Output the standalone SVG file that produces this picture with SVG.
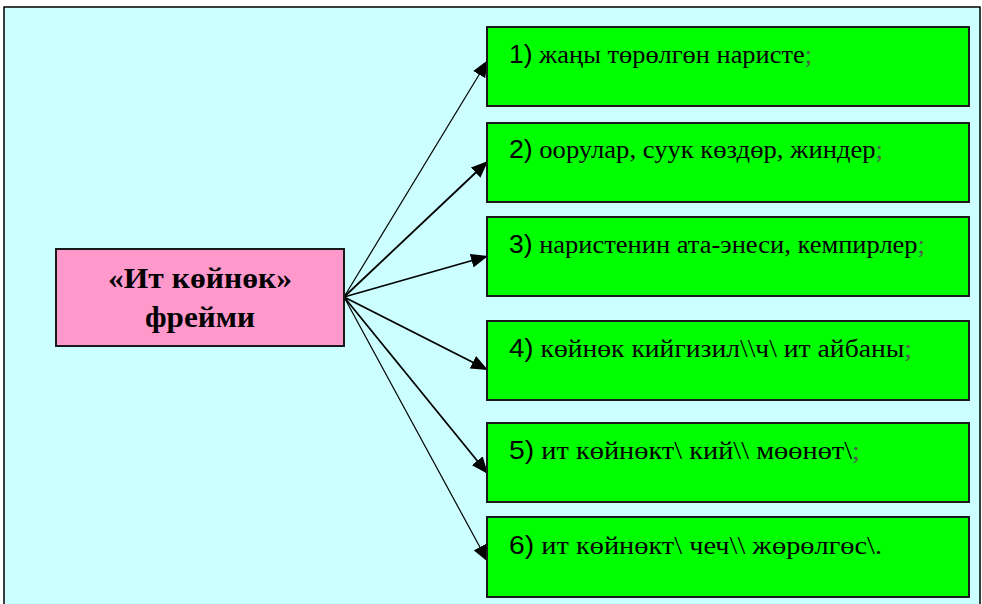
<svg xmlns="http://www.w3.org/2000/svg" width="982" height="604" viewBox="0 0 982 604">
<style>
.item rect{fill:#00ff00;stroke:#1a1a1a;stroke-width:2}
.item text{font-family:"Liberation Serif","Times New Roman",serif;font-size:26px;fill:#000}
.num{font-family:"Liberation Sans",Arial,sans-serif}
.semi{fill:#555}
.con line{stroke:#000}
.title{font-family:"Liberation Serif","Times New Roman",serif;font-weight:bold;font-size:30px;text-anchor:middle;fill:#000}
</style>
<defs>
<marker id="ah" markerUnits="userSpaceOnUse" markerWidth="18" markerHeight="14" refX="17" refY="7" orient="auto">
<path d="M0,0 L17,7 L0,14 Z" fill="#000"/>
</marker>
</defs>
<rect x="0" y="0" width="982" height="604" fill="#fff"/>
<rect id="frame" x="4" y="7" width="976" height="610" fill="#ccffff" stroke="#000" stroke-width="1.5"/>
<g class="con" id="connectors">
<line x1="344" y1="297" x2="488" y2="60" stroke-width="1.2" marker-end="url(#ah)"/>
<line x1="344" y1="297" x2="488" y2="161" stroke-width="1.8" marker-end="url(#ah)"/>
<line x1="344" y1="297" x2="488" y2="256" stroke-width="1.8" marker-end="url(#ah)"/>
<line x1="344" y1="297" x2="488" y2="370" stroke-width="1.8" marker-end="url(#ah)"/>
<line x1="344" y1="297" x2="488" y2="474" stroke-width="1.8" marker-end="url(#ah)"/>
<line x1="344" y1="297" x2="488" y2="562" stroke-width="1.2" marker-end="url(#ah)"/>
</g>
<g id="frame-node">
<rect x="56" y="249" width="288" height="97" fill="#ff99cc" stroke="#1a1a1a" stroke-width="2"/>
<text class="title" x="200" y="288" textLength="184" lengthAdjust="spacingAndGlyphs">«Ит көйнөк»</text>
<text class="title" x="200" y="327" textLength="110" lengthAdjust="spacingAndGlyphs">фрейми</text>
</g>
<g class="item" id="n1"><rect x="487" y="27" width="482" height="79"/><text x="509" y="63" textLength="303" lengthAdjust="spacingAndGlyphs"><tspan class="num">1)</tspan> жаңы төрөлгөн наристе<tspan class="semi">;</tspan></text></g>
<g class="item" id="n2"><rect x="487" y="123" width="482" height="79"/><text x="509" y="158" textLength="374" lengthAdjust="spacingAndGlyphs"><tspan class="num">2)</tspan> оорулар, суук көздөр, жиндер<tspan class="semi">;</tspan></text></g>
<g class="item" id="n3"><rect x="487" y="217" width="482" height="79"/><text x="509" y="253" textLength="416" lengthAdjust="spacingAndGlyphs"><tspan class="num">3)</tspan> наристенин ата-энеси, кемпирлер<tspan class="semi">;</tspan></text></g>
<g class="item" id="n4"><rect x="487" y="321" width="482" height="79"/><text x="509" y="357" textLength="403" lengthAdjust="spacingAndGlyphs"><tspan class="num">4)</tspan> көйнөк кийгизил\\ч\ ит айбаны<tspan class="semi">;</tspan></text></g>
<g class="item" id="n5"><rect x="487" y="423" width="482" height="79"/><text x="509" y="459" textLength="351" lengthAdjust="spacingAndGlyphs"><tspan class="num">5)</tspan> ит көйнөкт\ кий\\ мөөнөт\<tspan class="semi">;</tspan></text></g>
<g class="item" id="n6"><rect x="487" y="517" width="482" height="80"/><text x="509" y="554" textLength="373" lengthAdjust="spacingAndGlyphs"><tspan class="num">6)</tspan> ит көйнөкт\ чеч\\ жөрөлгөс\.</text></g>
</svg>
